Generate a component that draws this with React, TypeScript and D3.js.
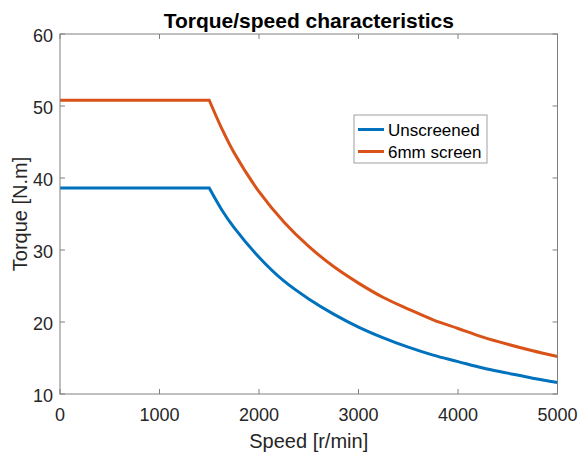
import * as d3 from "d3";

const speeds = [0, 1500, 1625, 1750, 2000, 2250, 2500, 2750, 3000, 3250, 3500, 3750, 4000, 4250, 4500, 4750, 5000];
const unscreened = [38.6, 38.6, 35.6, 33.1, 29.0, 25.7, 23.2, 21.1, 19.3, 17.8, 16.5, 15.4, 14.5, 13.6, 12.9, 12.2, 11.6];
const screen6mm = [50.8, 50.8, 46.9, 43.5, 38.1, 33.9, 30.5, 27.7, 25.4, 23.4, 21.8, 20.3, 19.1, 17.9, 16.9, 16.0, 15.2];
const seriesNames = ["Unscreened", "6mm screen"];
const seriesColors = ["#0072BD", "#D95319"];
const xTicks = [0, 1000, 2000, 3000, 4000, 5000];
const yTicks = [10, 20, 30, 40, 50, 60];

export default function App() {
  const width = 579;
  const height = 455;
  const m = { left: 60, right: 21.5, top: 34, bottom: 61 };
  const x = d3.scaleLinear().domain([0, 5000]).range([m.left, width - m.right]);
  const y = d3.scaleLinear().domain([10, 60]).range([height - m.bottom, m.top]);
  const font = "'Liberation Sans', Arial, Helvetica, sans-serif";
  const axisColor = "#808080";
  const textColor = "#262626";

  const series = [unscreened, screen6mm];
  // falling part is smoothed, flat part stays a straight segment
  const curve = d3
    .line<[number, number]>()
    .x((d) => x(d[0]))
    .y((d) => y(d[1]))
    .curve(d3.curveCatmullRom.alpha(0.5));

  const x0 = x(0), x1 = x(5000), y0 = y(10), y1 = y(60);
  const tick = 5;

  return (
    <svg width={width} height={height} style={{ position: "absolute", left: 0, top: 0, background: "#fff" }} fontFamily={font}>
      {series.map((s, i) => {
        const pts: [number, number][] = speeds.map((sp, j) => [sp, s[j]]);
        const d = `M${x(pts[0][0])},${y(pts[0][1])}L${x(pts[1][0])},${y(pts[1][1])}` + (curve(pts.slice(1)) ?? "").replace(/^M[^CL]*/, "");
        return <path key={i} d={d} fill="none" stroke={seriesColors[i]} strokeWidth={3} strokeLinejoin="miter" />;
      })}

      <rect x={x0} y={y1} width={x1 - x0} height={y0 - y1} fill="none" stroke={axisColor} strokeWidth={1} />
      {xTicks.map((t) => (
        <g key={t}>
          <line x1={x(t)} x2={x(t)} y1={y0} y2={y0 - tick} stroke={axisColor} />
          <line x1={x(t)} x2={x(t)} y1={y1} y2={y1 + tick} stroke={axisColor} />
          <text x={x(t)} y={421} textAnchor="middle" fontSize={18} fill={textColor}>{t}</text>
        </g>
      ))}
      {yTicks.map((t) => (
        <g key={t}>
          <line x1={x0} x2={x0 + tick} y1={y(t)} y2={y(t)} stroke={axisColor} />
          <line x1={x1} x2={x1 - tick} y1={y(t)} y2={y(t)} stroke={axisColor} />
          <text x={53} y={y(t) + 8} textAnchor="end" fontSize={18} fill={textColor}>{t}</text>
        </g>
      ))}

      <text x={(x0 + x1) / 2} y={28} textAnchor="middle" fontSize={21} fontWeight="bold" fill="#000">
        Torque/speed characteristics
      </text>
      <text x={(x0 + x1) / 2} y={448} textAnchor="middle" fontSize={20} fill={textColor}>Speed [r/min]</text>
      <text transform={`translate(27, ${(y0 + y1) / 2}) rotate(-90)`} textAnchor="middle" fontSize={20} fill={textColor}>
        Torque [N.m]
      </text>

      <g>
        <rect x={354} y={115} width={133} height={48} fill="#fff" stroke="#a0a0a0" strokeWidth={1} />
        {seriesNames.map((n, i) => (
          <g key={n}>
            <line x1={358} x2={384} y1={129.5 + i * 22} y2={129.5 + i * 22} stroke={seriesColors[i]} strokeWidth={3} />
            <text x={388} y={135.5 + i * 22} fontSize={17} fill="#000">{n}</text>
          </g>
        ))}
      </g>
    </svg>
  );
}
